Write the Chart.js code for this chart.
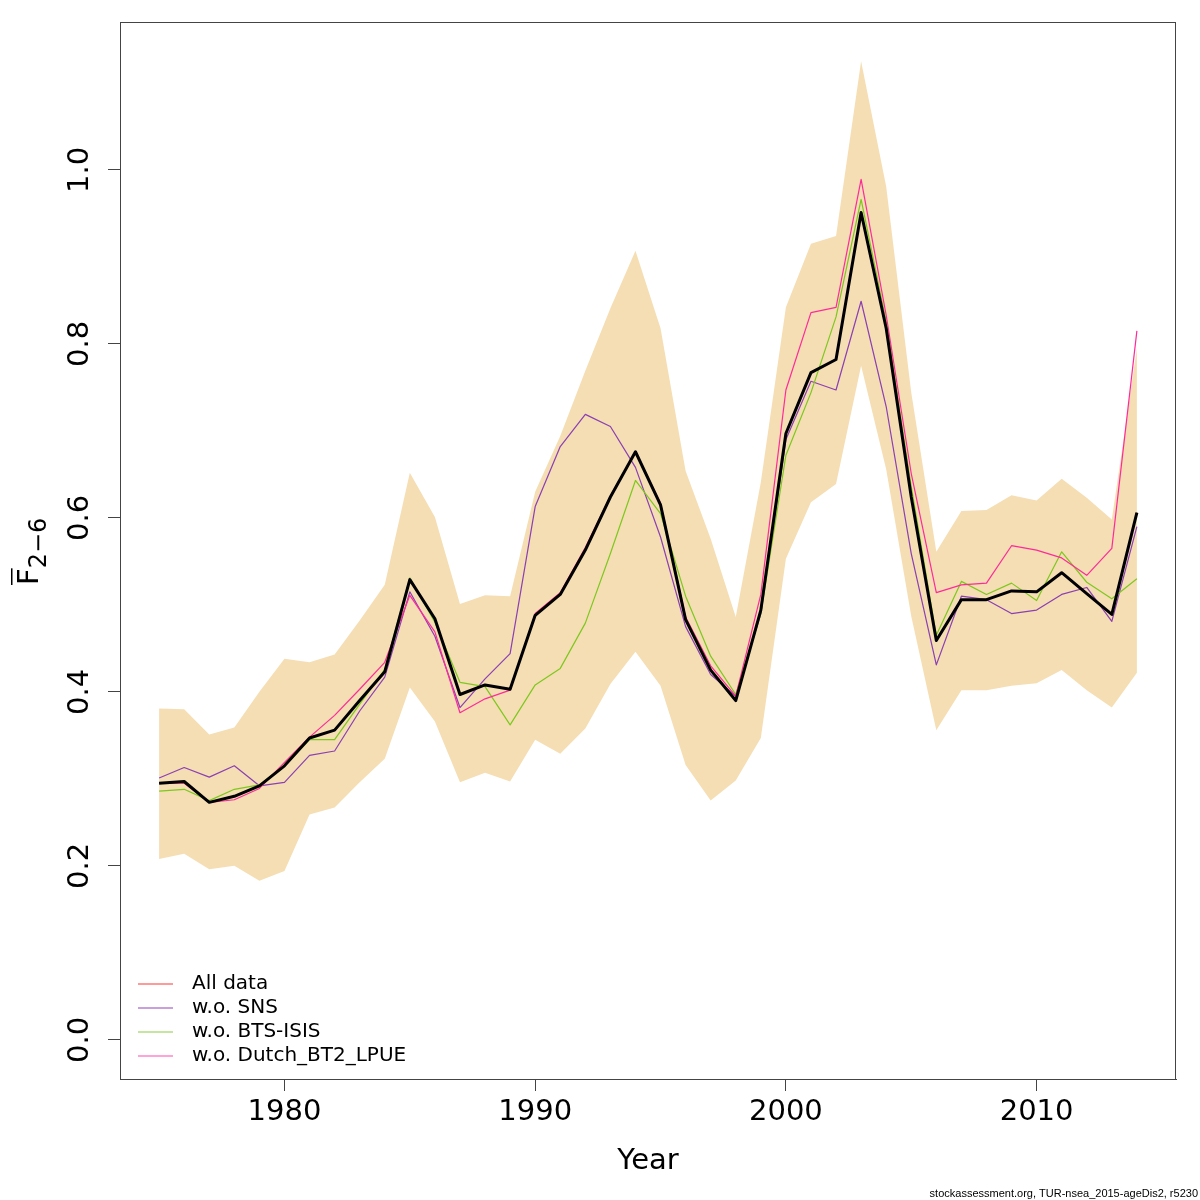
<!DOCTYPE html>
<html>
<head>
<meta charset="utf-8">
<script src="https://cdn.jsdelivr.net/npm/chart.js@4.4.1/dist/chart.umd.min.js"></script>
<style>
  html, body { margin: 0; padding: 0; background: #fff; }
  #wrap { width: 1200px; height: 1200px; }
</style>
</head>
<body>
<div id="wrap"><canvas id="fbarChart" width="1200" height="1200"></canvas></div>
<script>
// ========== Data ==========
const years = [1975, 1976, 1977, 1978, 1979, 1980, 1981, 1982, 1983, 1984,
               1985, 1986, 1987, 1988, 1989, 1990, 1991, 1992, 1993, 1994,
               1995, 1996, 1997, 1998, 1999, 2000, 2001, 2002, 2003, 2004,
               2005, 2006, 2007, 2008, 2009, 2010, 2011, 2012, 2013, 2014];

// Fbar(2-6) estimate, all data
const fbarAll = [0.295, 0.297, 0.273, 0.280, 0.292, 0.315, 0.347, 0.356, 0.390, 0.423,
                 0.529, 0.484, 0.397, 0.408, 0.403, 0.488, 0.512, 0.563, 0.624, 0.676,
                 0.615, 0.483, 0.425, 0.390, 0.494, 0.697, 0.767, 0.782, 0.951, 0.818,
                 0.624, 0.459, 0.506, 0.506, 0.516, 0.515, 0.537, 0.513, 0.489, 0.606];
const fbarUpper = [0.381, 0.380, 0.351, 0.359, 0.400, 0.438, 0.434, 0.443, 0.482, 0.523,
                   0.652, 0.601, 0.501, 0.511, 0.510, 0.630, 0.694, 0.769, 0.841, 0.907,
                   0.818, 0.654, 0.576, 0.486, 0.641, 0.842, 0.915, 0.924, 1.125, 0.981,
                   0.744, 0.561, 0.608, 0.609, 0.626, 0.620, 0.645, 0.623, 0.598, 0.795];
const fbarLower = [0.208, 0.214, 0.196, 0.200, 0.183, 0.194, 0.259, 0.267, 0.296, 0.323,
                   0.405, 0.366, 0.296, 0.307, 0.297, 0.345, 0.329, 0.358, 0.409, 0.446,
                   0.407, 0.316, 0.275, 0.298, 0.347, 0.553, 0.618, 0.639, 0.775, 0.656,
                   0.487, 0.356, 0.402, 0.402, 0.407, 0.410, 0.425, 0.402, 0.382, 0.422];
const fbarNoSNS = [0.301, 0.313, 0.302, 0.315, 0.292, 0.296, 0.327, 0.332, 0.378, 0.417,
                   0.515, 0.464, 0.382, 0.415, 0.444, 0.613, 0.682, 0.719, 0.705, 0.658,
                   0.578, 0.475, 0.420, 0.395, 0.490, 0.690, 0.757, 0.747, 0.849, 0.728,
                   0.559, 0.431, 0.510, 0.506, 0.490, 0.494, 0.512, 0.520, 0.481, 0.590];
const fbarNoBTS = [0.286, 0.288, 0.275, 0.288, 0.293, 0.315, 0.345, 0.345, 0.386, 0.426,
                   0.531, 0.480, 0.411, 0.406, 0.362, 0.408, 0.427, 0.479, 0.559, 0.643,
                   0.605, 0.510, 0.441, 0.397, 0.490, 0.672, 0.744, 0.831, 0.966, 0.826,
                   0.636, 0.465, 0.527, 0.512, 0.525, 0.505, 0.561, 0.526, 0.507, 0.530];
const fbarNoDutch = [0.295, 0.295, 0.273, 0.276, 0.289, 0.319, 0.348, 0.373, 0.403, 0.434,
                     0.511, 0.469, 0.376, 0.392, 0.402, 0.490, 0.514, 0.566, 0.625, 0.676,
                     0.617, 0.486, 0.430, 0.395, 0.512, 0.747, 0.836, 0.842, 0.989, 0.833,
                     0.651, 0.514, 0.523, 0.525, 0.568, 0.563, 0.554, 0.534, 0.565, 0.815];

const legendLabels = ['All data', 'w.o. SNS', 'w.o. BTS-ISIS', 'w.o. Dutch_BT2_LPUE'];
const xTicks = [1980, 1990, 2000, 2010];
const yTicks = [0, 0.2, 0.4, 0.6, 0.8, 1.0];
const yTickLabels = ['0.0', '0.2', '0.4', '0.6', '0.8', '1.0'];

// ========== Styles ==========
const FONT = '"DejaVu Sans", sans-serif';
const lineColors = ['#ff3b3b', '#8b3fb3', '#7dc81e', '#ff2a9a'];
const legendColors = ['#ff9a9a', '#c9a0dc', '#c6e5a0', '#ffa3d9'];
const axisColor = '#444';

const pts = arr => arr.map((v, i) => ({ x: years[i], y: v }));

function thinLine(label, arr, color, order) {
  return { label, data: pts(arr), borderColor: color, borderWidth: 1.2, pointRadius: 0,
           fill: false, tension: 0, order, borderJoinStyle: 'round' };
}

// ========== Extra drawing: box, y labels, titles, legend, caption ==========
const decorPlugin = {
  id: 'decor',
  afterDraw(chart) {
    const { ctx, chartArea: a, scales } = chart;
    ctx.save();

    ctx.strokeStyle = axisColor;
    ctx.lineWidth = 1;
    ctx.strokeRect(a.left + 0.5, a.top + 0.5, a.right - a.left - 1, a.bottom - a.top);

    // y tick labels, vertical like R
    ctx.fillStyle = '#000';
    ctx.font = '29px ' + FONT;
    ctx.textAlign = 'center';
    ctx.textBaseline = 'middle';
    yTicks.forEach((v, i) => {
      const py = scales.y.getPixelForValue(v);
      ctx.save();
      ctx.translate(80, py);
      ctx.rotate(-Math.PI / 2);
      ctx.fillText(yTickLabels[i], 0, 0);
      ctx.restore();
    });

    // x title
    ctx.fillText('Year', (a.left + a.right) / 2, 1161);

    // y title: F-bar with subscript 2-6
    ctx.save();
    ctx.translate(38, 585);
    ctx.rotate(-Math.PI / 2);
    ctx.textAlign = 'left';
    ctx.textBaseline = 'alphabetic';
    ctx.font = '29px ' + FONT;
    ctx.fillText('F', 0, 0);
    const fw = ctx.measureText('F').width;
    ctx.fillRect(0, -27, fw, 1.5);
    ctx.font = '24px ' + FONT;
    ctx.fillText('2\u22126', fw, 8);
    ctx.restore();

    // legend
    ctx.font = '20px ' + FONT;
    ctx.textAlign = 'left';
    ctx.textBaseline = 'middle';
    legendLabels.forEach((lab, i) => {
      const ly = 984 + i * 24;
      ctx.strokeStyle = legendColors[i];
      ctx.lineWidth = 2;
      ctx.beginPath();
      ctx.moveTo(138, ly);
      ctx.lineTo(173, ly);
      ctx.stroke();
      ctx.fillStyle = '#000';
      ctx.fillText(lab, 192, ly);
    });

    // caption
    ctx.font = '11px "Liberation Sans", sans-serif';
    ctx.textAlign = 'right';
    ctx.textBaseline = 'alphabetic';
    ctx.fillText('stockassessment.org, TUR-nsea_2015-ageDis2, r5230', 1198, 1197);

    ctx.restore();
  }
};

// ========== Chart ==========
const ctx = document.getElementById('fbarChart');
new Chart(ctx, {
  type: 'line',
  data: {
    datasets: [
      { label: 'estimate', data: pts(fbarAll), borderColor: '#000', borderWidth: 3, pointRadius: 0,
        fill: false, tension: 0, order: 0, borderJoinStyle: 'round' },
      thinLine(legendLabels[0], fbarAll, lineColors[0], 4),
      thinLine(legendLabels[1], fbarNoSNS, lineColors[1], 3),
      thinLine(legendLabels[2], fbarNoBTS, lineColors[2], 2),
      thinLine(legendLabels[3], fbarNoDutch, lineColors[3], 1),
      { label: 'upper', data: pts(fbarUpper), borderWidth: 0, borderColor: 'rgba(0,0,0,0)', pointRadius: 0,
        backgroundColor: '#f5deb3', fill: '+1', tension: 0, order: 10 },
      { label: 'lower', data: pts(fbarLower), borderWidth: 0, borderColor: 'rgba(0,0,0,0)', pointRadius: 0,
        fill: false, tension: 0, order: 11 },
    ]
  },
  options: {
    responsive: false, animation: false, devicePixelRatio: 1,
    layout: { padding: { top: 22, right: 24, left: 0, bottom: 0 } },
    plugins: { legend: { display: false }, tooltip: { enabled: false } },
    scales: {
      x: {
        type: 'linear', min: 1973.44, max: 2015.56,
        afterBuildTicks: s => { s.ticks = xTicks.map(v => ({ value: v })); },
        afterFit: s => { s.height = 121; },
        grid: { drawOnChartArea: false, drawTicks: true, tickLength: 12, color: axisColor, lineWidth: 1 },
        border: { display: true, color: axisColor, width: 1 },
        ticks: { color: '#000', padding: 4, font: { size: 29, family: 'DejaVu Sans', lineHeight: 1.2 },
                 maxRotation: 0, minRotation: 0, callback: v => String(v) }
      },
      y: {
        type: 'linear', min: -0.045, max: 1.17,
        afterBuildTicks: s => { s.ticks = yTicks.map(v => ({ value: v })); },
        afterFit: s => { s.width = 120; },
        grid: { drawOnChartArea: false, drawTicks: true, tickLength: 12, color: axisColor, lineWidth: 1 },
        border: { display: true, color: axisColor, width: 1 },
        ticks: { display: false }
      }
    }
  },
  plugins: [decorPlugin]
});
</script>
</body>
</html>
